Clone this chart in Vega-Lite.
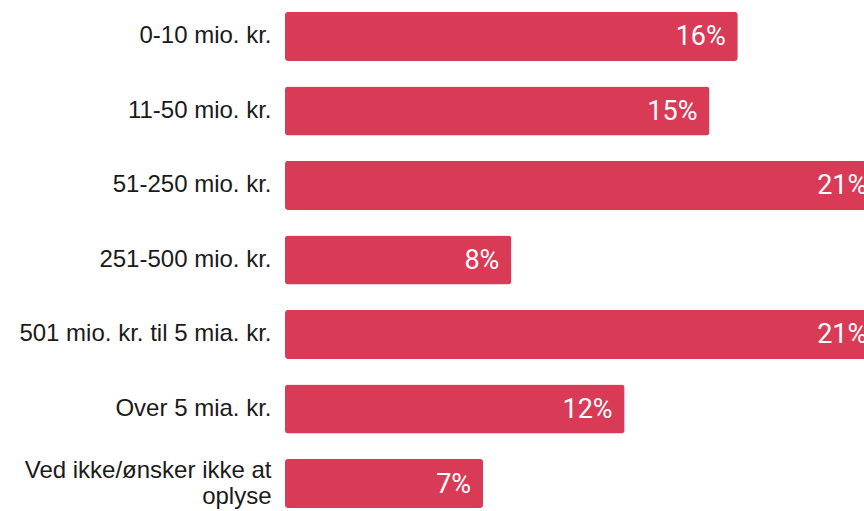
{
  "$schema": "https://vega.github.io/schema/vega-lite/v6.json",
  "width": 579,
  "height": 511,
  "autosize": {"type": "none"},
  "padding": {"left": 285, "top": 0, "right": 0, "bottom": 0},
  "background": "white",
  "config": {"view": {"stroke": null}},
  "data": {
    "values": [
      {"kategori": "0-10 mio. kr.", "andel": 0.16},
      {"kategori": "11-50 mio. kr.", "andel": 0.15},
      {"kategori": "51-250 mio. kr.", "andel": 0.21},
      {"kategori": "251-500 mio. kr.", "andel": 0.08},
      {"kategori": "501 mio. kr. til 5 mia. kr.", "andel": 0.21},
      {"kategori": "Over 5 mia. kr.", "andel": 0.12},
      {"kategori": "Ved ikke/ønsker ikke at oplyse", "andel": 0.07}
    ]
  },
  "encoding": {
    "y": {
      "field": "kategori",
      "type": "nominal",
      "sort": null,
      "scale": {"paddingInner": 0.342, "paddingOuter": 0.1, "align": 0.8},
      "axis": {
        "title": null,
        "domain": false,
        "ticks": false,
        "labelPadding": 14,
        "labelFont": "Liberation Sans",
        "labelFontSize": 24,
        "labelColor": "#1a1a1a",
        "labelLineHeight": 26,
        "labelLimit": 300,
        "labelOffset": {"condition": {"test": "datum.value == 'Ved ikke/ønsker ikke at oplyse'", "value": -13}, "value": 0},
        "labelExpr": "datum.value == 'Ved ikke/ønsker ikke at oplyse' ? ['Ved ikke/ønsker ikke at', 'oplyse'] : datum.label"
      }
    },
    "x": {
      "field": "andel",
      "type": "quantitative",
      "scale": {"domain": [0, 0.2046], "nice": false, "zero": true},
      "axis": null
    }
  },
  "layer": [
    {
      "mark": {"type": "bar", "color": "#d93a56", "cornerRadius": 3}
    },
    {
      "mark": {
        "type": "text",
        "align": "right",
        "baseline": "middle",
        "dx": -12,
        "dy": 1,
        "font": "Roboto",
        "fontSize": 27,
        "color": "white"
      },
      "encoding": {
        "text": {"field": "andel", "type": "quantitative", "format": ".0%"}
      }
    }
  ]
}
